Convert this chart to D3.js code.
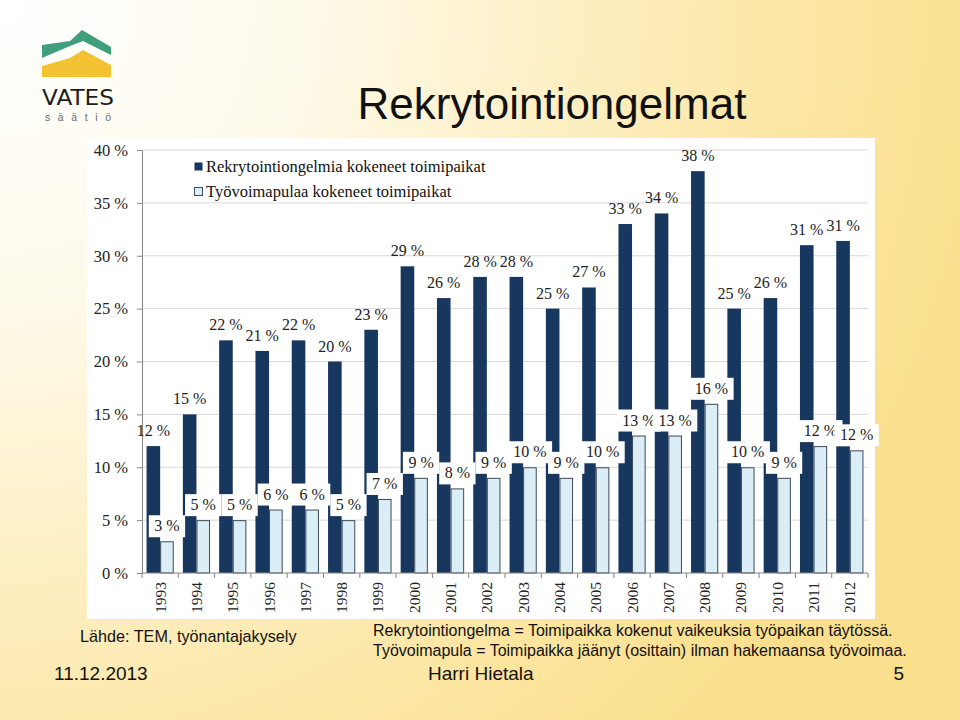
<!DOCTYPE html>
<html><head><meta charset="utf-8">
<script src="https://cdn.jsdelivr.net/npm/d3@7"></script>
<style>html,body{margin:0;padding:0;overflow:hidden;background:#fff}</style>
</head><body>
<svg id="c" width="960" height="720"></svg>
<script>
const years = ["1993","1994","1995","1996","1997","1998","1999","2000","2001","2002","2003","2004","2005","2006","2007","2008","2009","2010","2011","2012"];
const rekry = [12,15,22,21,22,20,23,29,26,28,28,25,27,33,34,38,25,26,31,31.4];
const tyovoima = [3,5,5,6,6,5,7,9,8,9,10,9,10,13,13,16,10,9,12,11.6];
const seriesNames = ["Rekrytointiongelmia kokeneet toimipaikat","Työvoimapulaa kokeneet toimipaikat"];
const yTicks = [0,5,10,15,20,25,30,35,40];
const title = "Rekrytointiongelmat";
const source = "Lähde: TEM, työnantajakysely";
const notes = ["Rekrytointiongelma = Toimipaikka kokenut vaikeuksia työpaikan täytössä.","Työvoimapula = Toimipaikka jäänyt (osittain) ilman hakemaansa työvoimaa."];
const footer = ["11.12.2013","Harri Hietala","5"];

const svg = d3.select("#c");
const defs = svg.append("defs");
const rg = defs.append("radialGradient").attr("id","bg").attr("gradientUnits","userSpaceOnUse")
  .attr("cx",0).attr("cy",0).attr("r",1000);
[[0,"#ffffff"],[0.3,"#fefaeb"],[0.55,"#fdf0c6"],[0.8,"#fce6a3"],[1,"#fadf8e"]].forEach(s=>rg.append("stop").attr("offset",s[0]).attr("stop-color",s[1]));
svg.append("rect").attr("width",960).attr("height",720).attr("fill","url(#bg)");

// Logo
const logo = svg.append("g");
logo.append("path").attr("d","M42,45 L70,41 L82,30 L111,47 L111,55 L83,41 L70,46 L42,58 Z").attr("fill","#3f9f7d");
logo.append("path").attr("d","M42,66 L70,58 L83,50 L111,65 L111,77 L42,77 Z").attr("fill","#f2c232");
logo.append("text").attr("x",42).attr("y",105).attr("textLength",72).attr("lengthAdjust","spacingAndGlyphs")
  .attr("font-family","DejaVu Sans, Liberation Sans").attr("font-size",21).attr("fill","#1d1d1b").text("VATES");
logo.append("text").attr("x",45).attr("y",121).attr("textLength",66).attr("lengthAdjust","spacing")
  .attr("font-family","Liberation Sans").attr("font-size",10.5).attr("fill","#6b6b6b").text("säätiö");

// Title
svg.append("text").attr("x",552).attr("y",119).attr("text-anchor","middle")
  .attr("font-family","Liberation Sans, Arial").attr("font-size",44).attr("fill","#111").text(title);

// Chart box
svg.append("rect").attr("x",87).attr("y",138).attr("width",788).attr("height",481).attr("fill","#ffffff");

const x0 = d3.scaleBand().domain(years).range([142,868]).paddingInner(0).paddingOuter(0);
const x1 = d3.scaleBand().domain([0,1]).range([0,x0.bandwidth()]).paddingInner(0).paddingOuter(0.335);
const y = d3.scaleLinear().domain([0,40]).range([573,150]);
const serif = "Liberation Serif, Times New Roman, serif";

// grid
svg.append("g").selectAll("line").data(yTicks.filter(d=>d>0)).join("line")
  .attr("x1",142).attr("x2",868).attr("y1",d=>y(d)).attr("y2",d=>y(d)).attr("stroke","#d9d9d9").attr("stroke-width",1);

// y axis
const ya = svg.append("g").attr("transform","translate(142,0)")
  .call(d3.axisLeft(y).tickValues(yTicks).tickSize(5).tickPadding(9).tickFormat(d=>d+" %"));
ya.select(".domain").attr("stroke","#868686");
ya.selectAll(".tick line").attr("stroke","#868686");
ya.selectAll("text").attr("font-family",serif).attr("font-size",16.5).attr("fill","#222");

// bars
const dark = "#17375e", light = "#dbedf5";
svg.append("g").selectAll("rect").data(rekry).join("rect")
  .attr("x",(d,i)=>x0(years[i])+x1(0)).attr("width",x1.bandwidth())
  .attr("y",d=>y(d)).attr("height",d=>y(0)-y(d)).attr("fill",dark);
svg.append("g").selectAll("rect").data(tyovoima).join("rect")
  .attr("x",(d,i)=>x0(years[i])+x1(1)+0.5).attr("width",x1.bandwidth()-1)
  .attr("y",d=>y(d)+0.5).attr("height",d=>y(0)-y(d)-0.5).attr("fill",light).attr("stroke","#3a4a5c").attr("stroke-width",1);

// x axis
const xa = svg.append("g").attr("transform","translate(0,573)");
xa.append("line").attr("x1",142).attr("x2",868).attr("stroke","#868686");
xa.selectAll("line.t").data(d3.range(years.length+1)).join("line").attr("class","t")
  .attr("x1",i=>142+i*x0.step()).attr("x2",i=>142+i*x0.step()).attr("y1",0).attr("y2",5).attr("stroke","#868686");
xa.selectAll("text").data(years).join("text")
  .attr("transform",d=>`translate(${x0(d)+x0.bandwidth()/2+5.5},9) rotate(-90)`)
  .attr("text-anchor","end").attr("font-family",serif).attr("font-size",15.5).attr("fill","#222").text(d=>d);

const fmt = v=>d3.format(".0f")(v)+" %";
// dark labels
svg.append("g").selectAll("text").data(rekry).join("text")
  .attr("x",(d,i)=>x0(years[i])+x1(0)+x1.bandwidth()/2).attr("y",d=>y(d)-10)
  .attr("text-anchor","middle").attr("font-family",serif).attr("font-size",16).attr("fill","#222").text(fmt);

// light labels with white boxes
const lg = svg.append("g");
tyovoima.forEach((v,i)=>{
  const cx = x0(years[i])+x1(1)+x1.bandwidth()/2;
  const g = lg.append("g");
  const r = g.append("rect").attr("fill","#fff");
  const t = g.append("text").attr("x",cx).attr("y",y(v)-10).attr("text-anchor","middle")
    .attr("font-family",serif).attr("font-size",16).attr("fill","#222").text(fmt(v));
  const w = t.node().getComputedTextLength()+11;
  r.attr("x",cx-w/2).attr("y",y(v)-26).attr("width",w).attr("height",22);
});

// legend
const leg = svg.append("g");
seriesNames.forEach((s,i)=>{
  leg.append("rect").attr("x",194.5).attr("y",162.5+i*25).attr("width",8).attr("height",8)
    .attr("fill",i?light:dark).attr("stroke",i?"#3a4a5c":dark).attr("stroke-width",i?1:0);
  leg.append("text").attr("x",206).attr("y",172+i*25).attr("font-family",serif).attr("font-size",16.5).attr("fill","#111").text(s);
});

// footer
const sans = "Liberation Sans, Arial, sans-serif";
svg.append("text").attr("x",80).attr("y",642).attr("font-family",sans).attr("font-size",16.2).attr("fill","#111").text(source);
notes.forEach((n,i)=>svg.append("text").attr("x",373).attr("y",636+i*20).attr("font-family",sans).attr("font-size",16).attr("fill","#111").text(n));
svg.append("text").attr("x",54).attr("y",680).attr("font-family",sans).attr("font-size",19).attr("fill","#111").text(footer[0]);
svg.append("text").attr("x",428).attr("y",680).attr("font-family",sans).attr("font-size",19).attr("fill","#111").text(footer[1]);
svg.append("text").attr("x",904).attr("y",680).attr("text-anchor","end").attr("font-family",sans).attr("font-size",19).attr("fill","#111").text(footer[2]);
</script>
</body></html>
